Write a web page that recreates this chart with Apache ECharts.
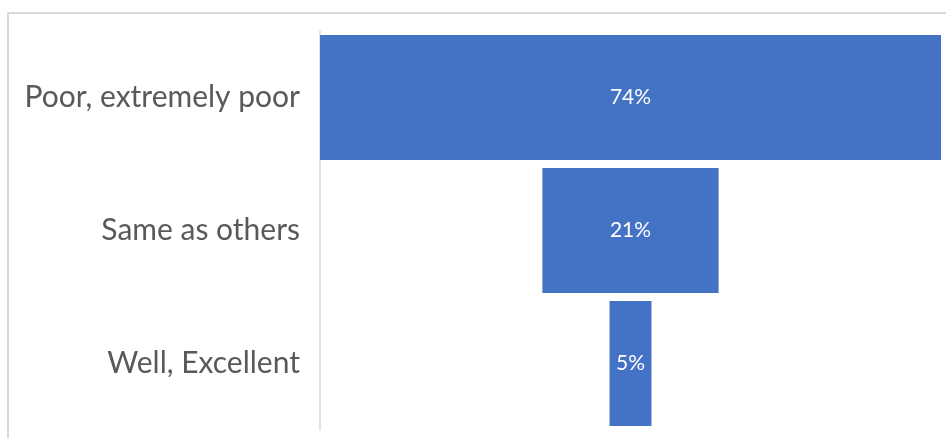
<!DOCTYPE html>
<html><head><meta charset="utf-8">
<script src="https://cdn.jsdelivr.net/npm/echarts@6/dist/echarts.min.js"></script>
<style>html,body{margin:0;padding:0;background:#fff}#c{width:946px;height:438px}</style>
</head><body><div id="c"></div>
<script>
const categories = ["Poor, extremely poor", "Same as others", "Well, Excellent"];
const values = [74, 21, 5];
const maxValue = 74;
const offsets = values.map(v => (maxValue - v) / 2);

const chart = echarts.init(document.getElementById('c'));
chart.setOption({
  animation: false,
  backgroundColor: '#ffffff',
  graphic: [{
    type: 'rect', silent: true, z: -1,
    shape: { x: 8, y: 13, width: 960, height: 460 },
    style: { fill: 'none', stroke: '#d9d9d9', lineWidth: 2 }
  }],
  grid: { left: 320, right: 5, top: 31, bottom: 8, containLabel: false },
  xAxis: { type: 'value', min: 0, max: maxValue, show: false },
  yAxis: {
    type: 'category', inverse: true, data: categories,
    axisLine: { show: true, lineStyle: { color: '#d9d9d9', width: 1.5 } },
    axisTick: { show: false },
    axisLabel: { color: '#595959', fontSize: 30, fontFamily: 'Lato', margin: 20 }
  },
  series: [
    { type: 'bar', stack: 'f', data: offsets, itemStyle: { color: 'transparent' },
      barCategoryGap: '6%', silent: true },
    { type: 'bar', stack: 'f', data: values, itemStyle: { color: '#4472c4' },
      barCategoryGap: '6%',
      label: { show: true, position: 'inside', formatter: '{c}%', color: '#ffffff',
               fontSize: 21, fontFamily: 'Lato' } }
  ]
});
</script></body></html>
